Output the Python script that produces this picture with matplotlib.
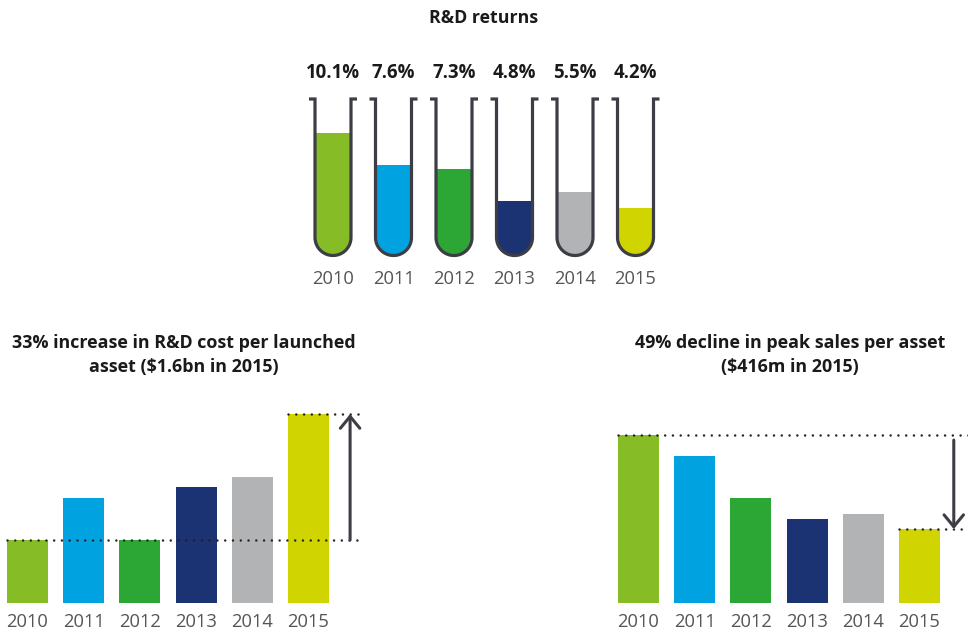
import numpy as np
import matplotlib.pyplot as plt
from matplotlib.path import Path
from matplotlib.patches import PathPatch, Rectangle

plt.rcParams['font.family'] = ['Open Sans', 'DejaVu Sans']

# data
years = ['2010', '2011', '2012', '2013', '2014', '2015']
colors = ['#86bc25', '#00a3e0', '#2ca736', '#1b3273', '#b2b3b5', '#d0d400']
rd_returns = [10.1, 7.6, 7.3, 4.8, 5.5, 4.2]              # %
cost_per_asset = [1188, 1317, 1188, 1351, 1382, 1576]     # $m
peak_sales = [816, 727, 548, 459, 480, 416]               # $m

W, H = 968, 633
fig = plt.figure(figsize=(W / 100, H / 100), dpi=100)

dark = '#3d3e45'
label_grey = '#555555'


def px_axes(x0, y0, x1, y1):
    # axes placed by pixel box (top-left origin)
    ax = fig.add_axes([x0 / W, 1 - y1 / H, (x1 - x0) / W, (y1 - y0) / H])
    ax.axis('off')
    return ax


def year_labels(ax, pad):
    for i, y in enumerate(years):
        ax.annotate(y, (i, 0), xycoords=('data', 'axes fraction'),
                    xytext=(0, -pad), textcoords='offset points',
                    ha='center', va='center', fontsize=13.2, color=label_grey)


def dotted(ax, x0, x1, y):
    ax.plot([x0, x1], [y, y], color='#222222', lw=1.8,
            linestyle=(0, (0.01, 3.1)), dash_capstyle='round')


def arrow(ax, x, y_from, y_to):
    ax.annotate('', xy=(x, y_to), xytext=(x, y_from),
                arrowprops=dict(arrowstyle='->, head_length=0.85, head_width=0.7',
                                color=dark, lw=2.2, shrinkA=0, shrinkB=0))


# ---- title + test tubes ----
fig.text(484 / W, 1 - 18 / H, 'R&D returns', ha='center', va='center',
         fontsize=12.8, fontweight='bold', color='#1a1a1a')

ax_t = px_axes(300, 90, 670, 262)
step_px, pct_px = 60.5, 12.8
ax_t.set_xlim(-33 / step_px, 337 / step_px)
ax_t.set_ylim(0, 172 / pct_px)

sx, sy = 1 / step_px, 1 / pct_px
r = 18                 # tube radius, px
top = 163              # px above base
arc_c = 24.5           # arc centre, px above base
flange = 6
ang = np.linspace(np.pi, 2 * np.pi, 40)

for i, (val, c) in enumerate(zip(rd_returns, colors)):
    # interior (clip) shape
    ix = np.concatenate([[-r], r * np.cos(ang), [r]]) * sx + i
    iy = np.concatenate([[top], arc_c + r * np.sin(ang), [top]]) * sy
    clip = Path(np.column_stack([ix, iy]), closed=False)
    rect = Rectangle((i - r * sx, 0), 2 * r * sx, val, color=c, lw=0)
    ax_t.add_patch(rect)
    rect.set_clip_path(clip, ax_t.transData)

    ox = np.concatenate([[-r - flange, -r], r * np.cos(ang), [r, r + flange]]) * sx + i
    oy = np.concatenate([[top, top], arc_c + r * np.sin(ang), [top, top]]) * sy
    ax_t.add_patch(PathPatch(Path(np.column_stack([ox, oy])), fill=False,
                             edgecolor=dark, lw=2.3, joinstyle='miter', capstyle='butt'))

    ax_t.annotate(f'{val}%', (i, top * sy), xytext=(0, 18.5), textcoords='offset points',
                  ha='center', va='center', fontsize=13.4, fontweight='bold', color='#1a1a1a')
    ax_t.annotate(years[i], (i, 0), xytext=(0, -12.5), textcoords='offset points',
                  ha='center', va='center', fontsize=13.2, color=label_grey)

# ---- left bars: cost per asset ----
fig.text(184 / W, 1 - 355 / H, '33% increase in R&D cost per launched\nasset ($1.6bn in 2015)',
         ha='center', va='center', multialignment='center', linespacing=1.4,
         fontsize=12.9, fontweight='bold', color='#1a1a1a')

ax_l = px_axes(0, 400, 370, 603)
ax_l.set_xlim(-27.5 / 56.2, 342.5 / 56.2)
ax_l.set_ylim(994, 994 + 203 * 3.08)
x = np.arange(len(years))
ax_l.bar(x, cost_per_asset, width=0.73, color=colors, bottom=0)
dotted(ax_l, -0.365, 5.97, cost_per_asset[0])
dotted(ax_l, 5 - 0.365, 5.97, cost_per_asset[-1])
arrow(ax_l, 5.74, cost_per_asset[0], cost_per_asset[-1])
year_labels(ax_l, 13.7)

# ---- right bars: peak sales ----
fig.text(790 / W, 1 - 355 / H, '49% decline in peak sales per asset\n($416m in 2015)',
         ha='center', va='center', multialignment='center', linespacing=1.4,
         fontsize=12.9, fontweight='bold', color='#1a1a1a')

ax_r = px_axes(600, 400, 968, 603)
ax_r.set_xlim(-38.5 / 56.2, 329.5 / 56.2)
ax_r.set_ylim(101, 101 + 203 * 4.26)
ax_r.bar(x, peak_sales, width=0.73, color=colors)
dotted(ax_r, -0.365, 5.86, peak_sales[0])
dotted(ax_r, 5 - 0.365, 5.86, peak_sales[-1])
arrow(ax_r, 5.61, peak_sales[0] - 21, peak_sales[-1])
year_labels(ax_r, 13.7)

fig.savefig('out.png', dpi=100)
